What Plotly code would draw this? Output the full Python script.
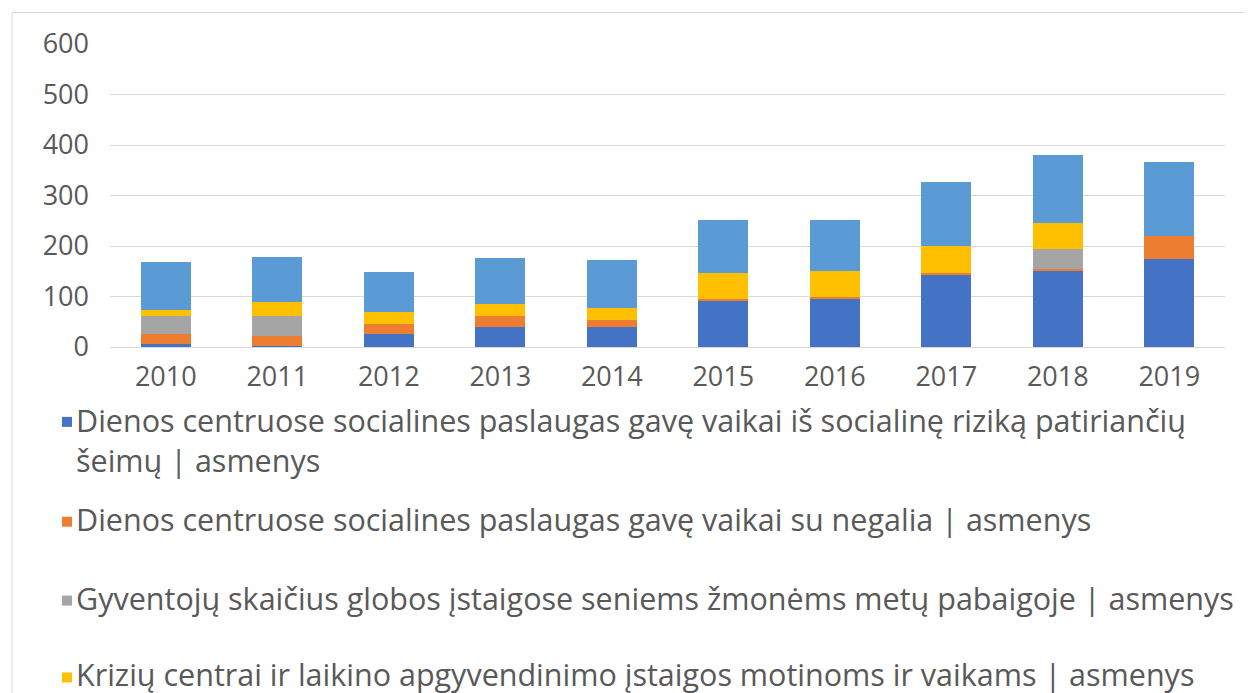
import plotly.graph_objects as go

years = ["2010", "2011", "2012", "2013", "2014", "2015", "2016", "2017", "2018", "2019"]

names = [
    "Dienos centruose socialines paslaugas gavę vaikai iš socialinę riziką patiriančių šeimų | asmenys",
    "Dienos centruose socialines paslaugas gavę vaikai su negalia | asmenys",
    "Gyventojų skaičius globos įstaigose seniems žmonėms metų pabaigoje | asmenys",
    "Krizių centrai ir laikino apgyvendinimo įstaigos motinoms ir vaikams | asmenys",
    "Kita | asmenys",
]
legend_labels = [
    "Dienos centruose socialines paslaugas gavę vaikai iš socialinę riziką patiriančių<br>šeimų | asmenys",
    "Dienos centruose socialines paslaugas gavę vaikai su negalia | asmenys",
    "Gyventojų skaičius globos įstaigose seniems žmonėms metų pabaigoje | asmenys",
    "Krizių centrai ir laikino apgyvendinimo įstaigos motinoms ir vaikams | asmenys",
]

rizikos_seimu_vaikai = [5, 2, 26, 40, 40, 93, 97, 143, 152, 175]
vaikai_su_negalia = [20, 20, 20, 21, 13, 3, 3, 4, 2, 45]
seniems_zmonems = [36, 39, 0, 0, 0, 0, 0, 0, 41, 0]
kriziu_centrai = [12, 29, 24, 24, 25, 50, 50, 54, 50, 0]
kita = [96, 88, 79, 91, 94, 105, 101, 126, 135, 147]

series = [rizikos_seimu_vaikai, vaikai_su_negalia, seniems_zmonems, kriziu_centrai, kita]
colors = ["#4472C4", "#ED7D31", "#A5A5A5", "#FFC000", "#5B9BD5"]

y_ticks = [0, 100, 200, 300, 400, 500, 600]

FONT = "Open Sans"
TICK_FS = 27
LEG_FS = 30.5
TXT = "#595959"

# page offset (browser body margin)
OFF = 8
W, H = 1253 - OFF, 693 - OFF
# plot area in page pixels
PL, PR, PT, PB = 110, 1225, 43.5, 347
L, R, T, B = PL - OFF, PR - OFF, PT - OFF, PB - OFF


def px(x):
    return (x - PL) / (PR - PL)


def py(y):
    return (PB - y) / (PB - PT)


fig = go.Figure()
for name, vals, col in zip(names, series, colors):
    fig.add_trace(go.Bar(x=years, y=vals, name=name, marker=dict(color=col, line=dict(width=0))))

fig.update_layout(
    width=W, height=H,
    margin=dict(l=L, r=W - R, t=T, b=H - B, pad=0),
    barmode="stack", bargap=0.55,
    showlegend=False,
    paper_bgcolor="white", plot_bgcolor="white",
    font=dict(family=FONT, size=TICK_FS, color=TXT),
    xaxis=dict(showgrid=False, showline=True, linecolor="#D9D9D9", linewidth=1,
               ticks="", tickfont=dict(size=TICK_FS, color=TXT), ticklabelstandoff=6),
    yaxis=dict(range=[0, 600], tickvals=y_ticks, showgrid=True, gridcolor="#D9D9D9",
               gridwidth=1, zeroline=False, showline=False, ticks="",
               tickfont=dict(size=TICK_FS, color=TXT), ticklabelstandoff=20),
)

# chart border
fig.add_shape(type="rect", xref="paper", yref="paper",
              x0=px(12), x1=px(1247), y0=py(720), y1=py(12),
              line=dict(color="#D9D9D9", width=1), fillcolor="rgba(0,0,0,0)", layer="below")

# manual legend (bottom, Excel style): text block centres and marker centres (page px)
text_centres = [440, 519, 598, 675]
marker_centres = [422, 522, 601, 678]
for lab, col, yc, ym in zip(legend_labels, colors, text_centres, marker_centres):
    fig.add_annotation(xref="paper", yref="paper", x=px(74), y=py(yc),
                       text=lab, showarrow=False, xanchor="left", yanchor="middle",
                       align="left", font=dict(family=FONT, size=LEG_FS, color=TXT))
    fig.add_shape(type="rect", xref="paper", yref="paper",
                  x0=px(62), x1=px(72), y0=py(ym + 5), y1=py(ym - 5),
                  fillcolor=col, line=dict(width=0))

fig.write_html("out.html")
